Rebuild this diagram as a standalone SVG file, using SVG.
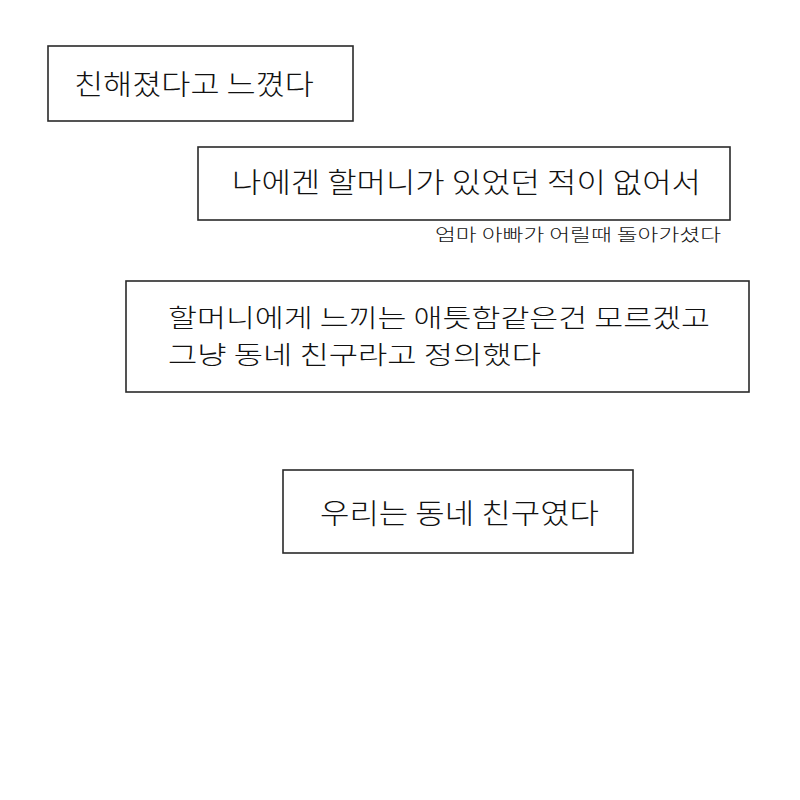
<svg xmlns="http://www.w3.org/2000/svg" width="800" height="800" viewBox="0 0 800 800">
  <style>
    .box { fill: #ffffff; stroke: #2a2a2a; stroke-width: 1.6; }
    .t { font-family: "Noto Sans CJK KR", "Liberation Sans", sans-serif; font-size: 28px; font-weight: 300; fill: #111111; }
    .t2 { font-family: "Noto Sans CJK KR", "Liberation Sans", sans-serif; font-size: 25px; font-weight: 300; fill: #111111; }
    .s { font-family: "Noto Sans CJK KR", "Liberation Sans", sans-serif; font-size: 17px; font-weight: 300; fill: #111111; }
  </style>
  <rect x="0" y="0" width="800" height="800" fill="#ffffff"/>
  <g id="box1">
    <rect class="box" x="48" y="46" width="305" height="75"/>
    <text class="t" x="74" y="95" textLength="240" lengthAdjust="spacingAndGlyphs">친해졌다고 느꼈다</text>
  </g>
  <g id="box2">
    <rect class="box" x="198" y="147" width="532" height="73"/>
    <text class="t" x="232" y="193" textLength="469" lengthAdjust="spacingAndGlyphs">나에겐 할머니가 있었던 적이 없어서</text>
  </g>
  <g id="note2">
    <text class="s" x="435" y="241" textLength="286" lengthAdjust="spacingAndGlyphs">엄마 아빠가 어릴때 돌아가셨다</text>
  </g>
  <g id="box3">
    <rect class="box" x="126" y="281" width="623" height="111"/>
    <text class="t2" x="168" y="327" textLength="542" lengthAdjust="spacingAndGlyphs">할머니에게 느끼는 애틋함같은건 모르겠고</text>
    <text class="t2" x="168" y="364" textLength="373" lengthAdjust="spacingAndGlyphs">그냥 동네 친구라고 정의했다</text>
  </g>
  <g id="box4">
    <rect class="box" x="283" y="470" width="350" height="83"/>
    <text class="t" x="320" y="524" textLength="279" lengthAdjust="spacingAndGlyphs">우리는 동네 친구였다</text>
  </g>
</svg>
